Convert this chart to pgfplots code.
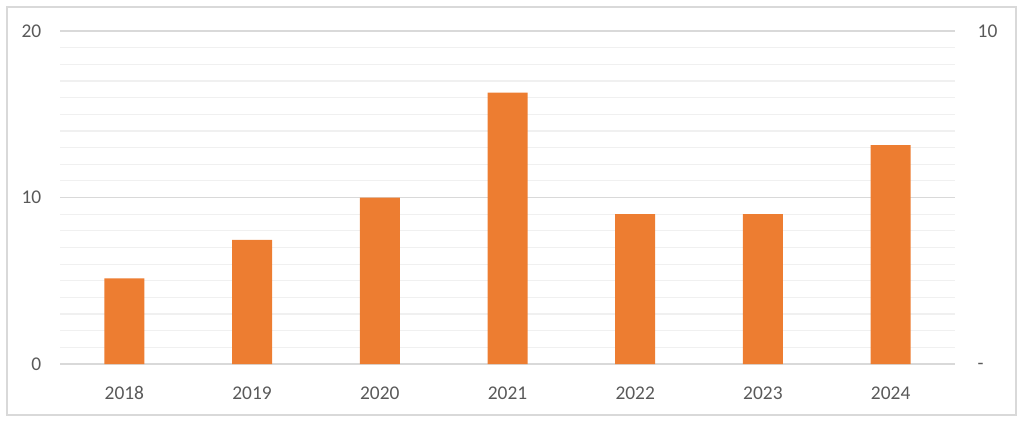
\documentclass[border=0pt]{standalone}
\usepackage{pgfplots}
\pgfplotsset{compat=1.18}
\usepackage{fontspec}
\setmainfont{Carlito}
\definecolor{barorange}{HTML}{ED7D31}
\definecolor{majorgray}{HTML}{D9D9D9}
\definecolor{minorgray}{HTML}{F0F0F0}
\definecolor{labelgray}{HTML}{595959}
\begin{document}
\begin{tikzpicture}[x=1bp,y=1bp]
\useasboundingbox (-60.5,-58) rectangle (963.5,364);
\draw[majorgray, line width=1.5bp] (-53.5,-51) rectangle (955.5,357);
\begin{axis}[
    at={(0,0)}, anchor=south west,
    scale only axis,
    width=894bp, height=333bp,
    xmin=-0.5, xmax=6.5,
    ymin=0, ymax=20,
    ybar, bar width=40bp,
    axis line style={draw=none},
    tick style={draw=none},
    xtick={0,...,6},
    xticklabels={2018,2019,2020,2021,2022,2023,2024},
    ytick={0,10,20},
    yticklabels={0,10,20},
    minor ytick={1,...,19},
    ymajorgrids, yminorgrids,
    major grid style={majorgray, line width=1.5bp},
    minor grid style={minorgray, line width=1.2bp},
    tick label style={font=\fontsize{19.5}{23}\selectfont, text=labelgray, inner sep=0pt},
    xticklabel style={anchor=center, yshift=-25bp},
    yticklabel style={anchor=east, xshift=-19bp},
    /pgf/number format/assume math mode=true,
]
\addplot[fill=barorange, draw=none] coordinates {
    (0,5.15) (1,7.45) (2,10) (3,16.3) (4,9) (5,9) (6,13.15)
};
\end{axis}
% right-hand axis: 0 shown as a dash
\begin{axis}[
    at={(0,0)}, anchor=south west,
    scale only axis,
    width=894bp, height=333bp,
    xmin=-0.5, xmax=6.5,
    ymin=0, ymax=10,
    hide x axis,
    axis y line*=right,
    axis line style={draw=none},
    tick style={draw=none},
    ytick={0,10},
    yticklabels={\smash{\raisebox{-5bp}{-}},10},
    tick label style={font=\fontsize{19.5}{23}\selectfont, text=labelgray, inner sep=0pt},
    yticklabel style={anchor=west, xshift=23bp},
]
\addplot[draw=none] coordinates {(0,0)};
\end{axis}
\end{tikzpicture}
\end{document}
